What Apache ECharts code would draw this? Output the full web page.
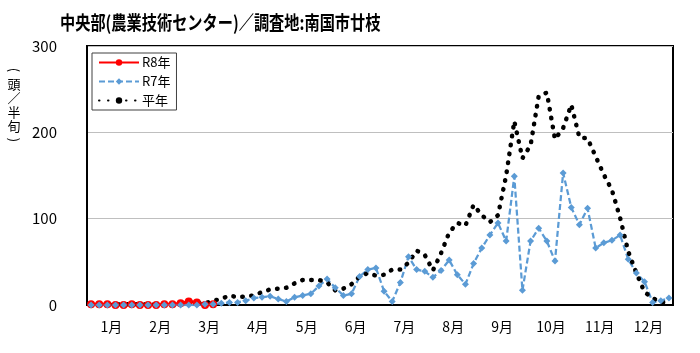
<!DOCTYPE html>
<html>
<head>
<meta charset="utf-8">
<script src="https://cdn.jsdelivr.net/npm/echarts@6/dist/echarts.min.js"></script>
<style>
  html, body { margin: 0; padding: 0; background: #fff; }
  #chart { width: 700px; height: 353px; }
</style>
</head>
<body>
<div id="chart"></div>
<script>
// month labels on the axis
const months = ['1月', '2月', '3月', '4月', '5月', '6月', '7月', '8月', '9月', '10月', '11月', '12月'];
const halvesPerMonth = ['1', '2', '3', '4', '5', '6'];

// counts per half-month period (頭／半旬), 72 periods
const r8 = [1, 1, 1, 0, 0, 1, 0, 0, 0, 1, 1, 2, 4, 3, 0, 1];
const r7 = [
    0, 0, 0, 0, 0, 0,
    0, 0, 0, 0, 0, 0,
    0, 0, 1, 1, 2, 3,
    3, 5, 8, 9, 10, 7,
    4, 9, 11, 13, 22, 30,
    20, 11, 13, 33, 41, 43,
    16, 4, 26, 56, 41, 39,
    32, 40, 52, 35, 24, 48,
    66, 81, 95, 74, 149, 17,
    74, 89, 74, 51, 153, 113,
    93, 112, 66, 72, 75, 81,
    53, 37, 27, 3, 5, 8
];
const heinen = [
    1, 1, 1, 1, 1, 1,
    1, 1, 1, 1, 1, 2,
    4, 3, 2, 5, 7, 11,
    9, 10, 11, 15, 18, 19,
    20, 25, 29, 29, 29, 26,
    17, 19, 24, 33, 37, 34,
    35, 41, 41, 49, 63, 58,
    40, 60, 84, 95, 92, 116,
    104, 96, 104, 150, 213, 170,
    185, 242, 246, 192, 205, 232,
    194, 193, 172, 151, 133, 101,
    62, 37, 15, 8, 3, 4
];

const yTicks = [0, 100, 200, 300];
const yUnitChars = ['頭', '／', '半', '旬'];

const FONT = '"Noto Sans CJK JP", "Noto Sans", sans-serif';

// half-month categories built from the month list
const periods = [];
months.forEach(m => halvesPerMonth.forEach(h => periods.push(m + h)));

// vertical unit label: rotated brackets around upright characters
function unitLabel(x, top) {
    const step = 14;
    const items = [{
        type: 'text', x: x, y: top, rotation: -Math.PI / 2,
        style: { text: '(', font: '13px ' + FONT, fill: '#000', align: 'center', verticalAlign: 'middle' }
    }];
    yUnitChars.forEach((c, i) => {
        items.push({
            type: 'text', x: x, y: top + step * (i + 1),
            style: { text: c, font: '13px ' + FONT, fill: '#000', align: 'center', verticalAlign: 'middle' }
        });
    });
    items.push({
        type: 'text', x: x, y: top + step * (yUnitChars.length + 1), rotation: -Math.PI / 2,
        style: { text: ')', font: '13px ' + FONT, fill: '#000', align: 'center', verticalAlign: 'middle' }
    });
    return items;
}

const chart = echarts.init(document.getElementById('chart'), null, { renderer: 'canvas' });

const option = {
    animation: false,
    textStyle: { fontFamily: FONT },
    graphic: [{
        type: 'text',
        x: 60,
        y: 13,
        scaleX: 0.8,
        style: {
            text: '中央部(農業技術センター)／調査地:南国市廿枝',
            font: 'bold 19px ' + FONT,
            fill: '#000'
        }
    }].concat(unitLabel(14, 70)),
    legend: {
        orient: 'vertical',
        left: 92,
        top: 53,
        padding: [3, 6, 3, 6],
        itemGap: 6,
        itemWidth: 40,
        itemHeight: 8,
        backgroundColor: '#fff',
        borderColor: '#404040',
        borderWidth: 1,
        borderRadius: 0,
        textStyle: { fontSize: 13, color: '#000', fontFamily: FONT, padding: [0, 0, 0, -2] },
        data: ['R8年', 'R7年', '平年']
    },
    grid: {
        left: 87,
        right: 27,
        top: 46,
        bottom: 48,
        show: true,
        borderColor: '#000',
        borderWidth: 2,
        backgroundColor: '#fff'
    },
    xAxis: [{
        type: 'category',
        data: months,
        boundaryGap: true,
        axisLine: { lineStyle: { color: '#000', width: 2 } },
        axisTick: { inside: true, length: 5, lineStyle: { color: '#000', width: 2 } },
        axisLabel: { fontSize: 14, color: '#000', margin: 15, fontFamily: FONT },
        splitLine: { show: false }
    }, {
        type: 'category',
        data: periods,
        boundaryGap: true,
        show: false
    }],
    yAxis: {
        type: 'value',
        min: yTicks[0],
        max: yTicks[yTicks.length - 1],
        interval: 100,
        axisLine: { show: true, lineStyle: { color: '#000', width: 2 } },
        axisTick: { show: false },
        axisLabel: { fontSize: 15, color: '#000', margin: 30, fontFamily: FONT },
        splitLine: { lineStyle: { color: '#bfbfbf', width: 1 } }
    },
    series: [{
        name: 'R8年',
        type: 'line',
        xAxisIndex: 1,
        data: r8,
        symbol: 'circle',
        symbolSize: 8,
        showAllSymbol: true,
        lineStyle: { color: '#ff0000', width: 3 },
        itemStyle: { color: '#ff0000' }
    }, {
        name: 'R7年',
        type: 'line',
        xAxisIndex: 1,
        data: r7,
        symbol: 'diamond',
        symbolSize: 7,
        showAllSymbol: true,
        lineStyle: { color: '#5b9bd5', width: 2.25, type: [6, 3] },
        itemStyle: { color: '#5b9bd5' }
    }, {
        name: '平年',
        type: 'line',
        xAxisIndex: 1,
        data: heinen,
        showSymbol: false,
        symbol: 'none',
        lineStyle: { color: '#000', width: 4.5, type: [0.5, 8.5], cap: 'round' },
        itemStyle: { color: '#000' }
    }]
};

chart.setOption(option);
</script>
</body>
</html>
